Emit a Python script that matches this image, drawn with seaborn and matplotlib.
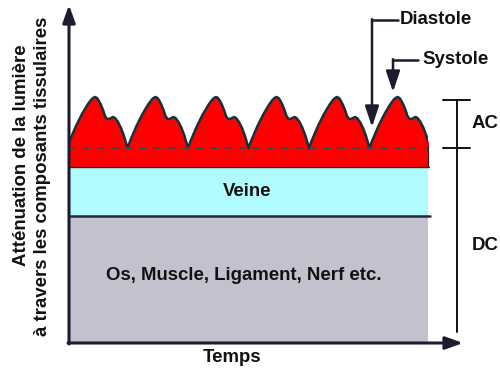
import numpy as np
import pandas as pd
import matplotlib
matplotlib.use("Agg")
import matplotlib.pyplot as plt
from matplotlib.patches import Rectangle
import seaborn as sns

# ---------------------------------------------------------------------------
# DATA (arbitrary units: x = time, y = light attenuation)
# ---------------------------------------------------------------------------
TISSUE_TOP = 126        # bone, muscle, ligament, nerve...
VEIN_TOP = 175          # venous blood
ARTERIAL_DC_TOP = 194   # non-pulsatile arterial blood (dashed line)
T_END = 359

# one cardiac beat (time offset, height above DC level)
BEAT_DX = [0, 3, 6, 9, 12, 15, 18, 21, 24, 26, 28, 30, 32, 34, 36, 38,
           40, 42, 44, 46, 48, 51, 54, 57, 59, 60.5]
BEAT_H = [0, 8, 15, 22, 28, 34, 39, 44, 48, 50, 51, 50, 47, 43, 38, 32,
          29, 29, 30, 31, 30, 26, 20, 12, 5, 0]
BEAT_START = [-2, 58.5, 119, 179.5, 240, 300.5]

LAYER_LABELS = ["Os, Muscle, Ligament, Nerf etc.", "Veine"]

# ---------------------------------------------------------------------------
# STYLE
# ---------------------------------------------------------------------------
sns.set_theme(style="white")
plt.rcParams["font.family"] = ["Liberation Sans", "DejaVu Sans"]
FS = 13.4
INK = "#1b1c2e"
RED = "#ff0000"
CYAN = "#b0fbfd"
GREY = "#c2c2ce"

wave = pd.DataFrame({
    "t": np.concatenate([np.array(BEAT_DX) + s for s in BEAT_START]),
    "h": np.tile(np.array(BEAT_H, dtype=float), len(BEAT_START)) + ARTERIAL_DC_TOP,
})

fig = plt.figure(figsize=(5, 3.71), dpi=100)
ax = fig.add_axes([0, 0, 1, 1])
ax.set_xlim(-69, 431)
ax.set_ylim(-29, 342)
ax.axis("off")

# layers
ax.add_patch(Rectangle((0, 0), T_END, TISSUE_TOP, color=GREY, lw=0, zorder=1))
ax.add_patch(Rectangle((0, TISSUE_TOP), T_END, VEIN_TOP - TISSUE_TOP,
                       color=CYAN, lw=0, zorder=1))

clip = Rectangle((0, 0), T_END, 400, transform=ax.transData)
red = ax.fill_between(wave["t"], VEIN_TOP, wave["h"], color=RED, lw=0, zorder=2)
red.set_clip_path(clip)
sns.lineplot(data=wave, x="t", y="h", ax=ax, color="#16303a", lw=1.8,
             sort=False, estimator=None, zorder=3)
ax.lines[-1].set_clip_path(clip)
ax.lines[-1].set_solid_joinstyle("round")

ax.plot([0, T_END], [ARTERIAL_DC_TOP] * 2, color="#24505e", lw=1.2,
        dashes=(4, 4.5), zorder=4)
ax.plot([T_END, T_END], [VEIN_TOP, ARTERIAL_DC_TOP + 2], color="#3a1010",
        lw=0.8, zorder=4)
ax.plot([0, T_END + 1], [VEIN_TOP] * 2, color="#20283a", lw=1.0, zorder=4)
ax.plot([0, T_END + 2], [TISSUE_TOP] * 2, color="#20283a", lw=1.8, zorder=4)

# layer labels
ax.text(174.5, TISSUE_TOP / 2 + 4, LAYER_LABELS[0], ha="center", va="center",
        fontsize=FS, fontweight="bold", color="#111", zorder=5)
ax.text(178, (TISSUE_TOP + VEIN_TOP) / 2, LAYER_LABELS[1], ha="center",
        va="center", fontsize=FS, fontweight="bold", color="#111", zorder=5)

# axes with arrow heads
head = dict(arrowstyle="-|>,head_length=0.75,head_width=0.27", color=INK,
            lw=2.2, mutation_scale=14, shrinkA=0, shrinkB=0)
ax.annotate("", xy=(0, 337), xytext=(0, -2), arrowprops=head, zorder=6)
ax.annotate("", xy=(394, -1), xytext=(-1, -1), arrowprops=head, zorder=6)

ax.text(163, -16, "Temps", ha="center", va="center", fontsize=FS,
        fontweight="bold", color="#111")
ax.text(-47, 187, "Atténuation de la lumière", rotation=90, ha="center",
        va="center", fontsize=FS, fontweight="bold", color="#111")
ax.text(-26, 166, "à travers les composants tissulaires", rotation=90,
        ha="center", va="center", fontsize=FS, fontweight="bold", color="#111")

# AC / DC scale bar
ax.plot([388, 388], [10, 242], color="#111", lw=1.4)
for yy in [242, ARTERIAL_DC_TOP]:
    ax.plot([374, 401], [yy, yy], color="#111", lw=1.4)
ax.text(403, 218, "AC", ha="left", va="center", fontsize=FS,
        fontweight="bold", color="#111")
ax.text(403, 97, "DC", ha="left", va="center", fontsize=FS,
        fontweight="bold", color="#111")

# Diastole / Systole call-outs
small = dict(arrowstyle="-|>,head_length=0.9,head_width=0.3", color=INK,
             lw=1.8, mutation_scale=14, shrinkA=0, shrinkB=0)
ax.plot([303, 329], [322, 322], color=INK, lw=1.8)
ax.annotate("", xy=(303, 215), xytext=(303, 322.8), arrowprops=small)
ax.text(331, 322, "Diastole", ha="left", va="center", fontsize=FS,
        fontweight="bold", color="#111")
ax.plot([324, 349], [282, 282], color=INK, lw=1.8)
ax.annotate("", xy=(324, 250), xytext=(324, 282.8), arrowprops=small)
ax.text(353, 282, "Systole", ha="left", va="center", fontsize=FS,
        fontweight="bold", color="#111")

fig.savefig("out.png", dpi=100)
